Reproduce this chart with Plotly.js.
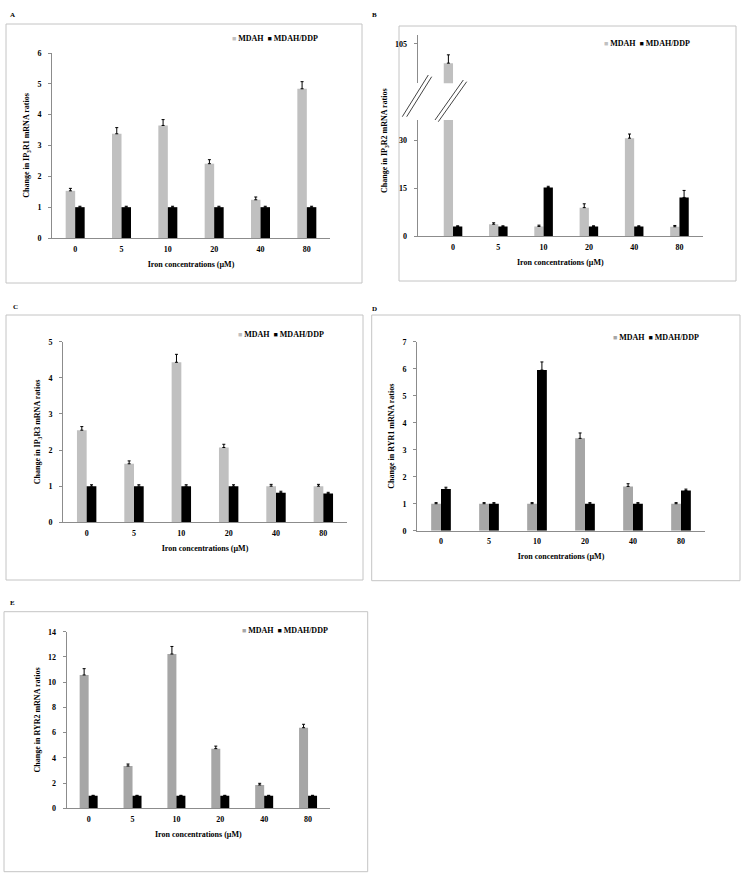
<!DOCTYPE html>
<html>
<head>
<meta charset="utf-8">
<script src="https://cdn.plot.ly/plotly-3.0.1.min.js"></script>
<style>
  body { margin: 0; background: #fff; }
  #chart { width: 744px; height: 876px; }
</style>
</head>
<body>
<div id="chart"></div>
<script>
var W = 744, H = 876;

// data
var categories = ['0', '5', '10', '20', '40', '80'];
var seriesNames = ['MDAH', 'MDAH/DDP'];

var mdahA = [1.53, 3.38, 3.65, 2.41, 1.24, 4.84];
var mdahErrA = [0.08, 0.20, 0.19, 0.13, 0.09, 0.23];
var ddpA = [1.0, 1.0, 1.0, 1.0, 1.0, 1.0];
var ddpErrA = [0.03, 0.03, 0.03, 0.03, 0.03, 0.03];

var mdahB = [99.0, 3.7, 3.0, 8.9, 30.7, 2.9];
var mdahErrB = [2.6, 0.45, 0.4, 1.2, 1.3, 0.4];
var ddpB = [3.0, 3.0, 15.2, 3.0, 3.0, 12.1];
var ddpErrB = [0.2, 0.2, 0.4, 0.2, 0.2, 2.2];

var mdahC = [2.55, 1.62, 4.43, 2.07, 1.0, 1.0];
var mdahErrC = [0.10, 0.08, 0.22, 0.09, 0.05, 0.05];
var ddpC = [1.0, 1.0, 1.0, 1.0, 0.82, 0.80];
var ddpErrC = [0.04, 0.04, 0.04, 0.04, 0.04, 0.03];

var mdahD = [1.0, 1.0, 1.0, 3.42, 1.64, 1.0];
var mdahErrD = [0.04, 0.04, 0.04, 0.20, 0.10, 0.04];
var ddpD = [1.54, 1.0, 5.95, 1.0, 1.0, 1.49];
var ddpErrD = [0.07, 0.04, 0.30, 0.04, 0.04, 0.05];

var mdahE = [10.57, 3.35, 12.23, 4.73, 1.85, 6.39];
var mdahErrE = [0.50, 0.16, 0.60, 0.20, 0.13, 0.27];
var ddpE = [1.0, 1.0, 1.0, 1.0, 1.0, 1.0];
var ddpErrE = [0.03, 0.03, 0.03, 0.03, 0.03, 0.03];

var FONT = '"Liberation Serif", "Times New Roman", serif';
var AXIS_GREY = '#8c8c8c';
var BOX_GREY = '#c4c4c4';
var LIGHT = '#c0c0c0';
var MID = '#a6a6a6';

// pixel -> paper
function px(x) { return x / W; }
function py(y) { return 1 - y / H; }

function txtFont(size) {
    return {family: FONT, size: size, color: '#000', weight: 'bold'};
}

var data = [];
var layout = {
    width: W,
    height: H,
    margin: {l: 0, r: 0, t: 0, b: 0},
    showlegend: false,
    barmode: 'group',
    bargap: 0.59,
    bargroupgap: 0,
    paper_bgcolor: '#fff',
    plot_bgcolor: 'rgba(0,0,0,0)',
    font: txtFont(8),
    shapes: [],
    annotations: []
};

function barTrace(name, y, err, color, n, yn) {
    return {
        type: 'bar',
        name: name,
        x: categories,
        y: y,
        xaxis: 'x' + n,
        yaxis: 'y' + (yn || n),
        marker: {color: color, line: {width: 0}},
        error_y: {
            type: 'data',
            symmetric: false,
            array: err,
            arrayminus: err.map(function () { return 0; }),
            color: '#000',
            thickness: 1,
            width: 1.5
        },
        hoverinfo: 'x+y'
    };
}

function xAxisDef(x0, x1, anchor, range) {
    return {
        domain: [px(x0), px(x1)],
        anchor: anchor,
        type: 'category',
        range: range || [-0.5, 5.5],
        showline: true,
        linecolor: AXIS_GREY,
        linewidth: 1,
        ticks: '',
        showgrid: false,
        zeroline: false,
        ticklabelstandoff: 3,
        tickfont: txtFont(8),
        title: {
            text: 'Iron concentrations (\u00b5M)',
            font: txtFont(8),
            standoff: 8
        },
        fixedrange: true
    };
}

function yAxisDef(y0, y1, anchor, range, tickvals, title) {
    var ax = {
        domain: [py(y1), py(y0)],
        anchor: anchor,
        range: range,
        tickvals: tickvals,
        showline: true,
        linecolor: AXIS_GREY,
        linewidth: 1,
        ticks: 'outside',
        ticklen: 3,
        tickcolor: AXIS_GREY,
        showgrid: false,
        zeroline: false,
        ticklabelstandoff: 5,
        tickfont: txtFont(8),
        fixedrange: true
    };
    if (title) {
        ax.title = {text: title, font: txtFont(8), standoff: 6};
    }
    return ax;
}

function seq(a, b, step) {
    var out = [];
    for (var v = a; v <= b + 1e-9; v += step) out.push(v);
    return out;
}

function frame(box, label, legendPos, grey) {
    layout.shapes.push({
        type: 'rect', xref: 'paper', yref: 'paper',
        x0: px(box[0]), x1: px(box[2]), y0: py(box[3]), y1: py(box[1]),
        line: {color: BOX_GREY, width: 1}, fillcolor: 'rgba(0,0,0,0)', layer: 'below'
    });
    layout.annotations.push({
        xref: 'paper', yref: 'paper', x: px(label[1]), y: py(label[2]),
        text: label[0], showarrow: false, xanchor: 'center', yanchor: 'middle',
        font: txtFont(7)
    });
    layout.annotations.push({
        xref: 'paper', yref: 'paper', x: px(legendPos[0]), y: py(legendPos[1]),
        text: '<span style="color:' + grey + ';font-size:7px">\u25a0</span> ' + seriesNames[0] +
              '  <span style="color:#000;font-size:7px">\u25a0</span> ' + seriesNames[1],
        showarrow: false, xanchor: 'center', yanchor: 'middle',
        font: txtFont(8)
    });
}

// panel A
data.push(barTrace(seriesNames[0], mdahA, mdahErrA, LIGHT, 1));
data.push(barTrace(seriesNames[1], ddpA, ddpErrA, '#000', 1));
layout.xaxis = xAxisDef(52, 330, 'y');
layout.yaxis = yAxisDef(53, 238, 'x', [0, 6], seq(0, 6, 1), 'Change in IP<sub>3</sub>R1 mRNA ratios');
frame([6, 24, 362, 283], ['A', 12, 15], [275, 39], LIGHT);

// panel B (broken axis: lower part 0-36, upper part 93-108)
data.push(barTrace(seriesNames[0], mdahB, mdahErrB, LIGHT, 2));
data.push(barTrace(seriesNames[1], ddpB, ddpErrB, '#000', 2));
data.push(barTrace(seriesNames[0], mdahB, mdahErrB, LIGHT, 2, 6));
data.push(barTrace(seriesNames[1], ddpB, ddpErrB, '#000', 2, 6));
layout.xaxis2 = xAxisDef(417.7, 703, 'y2', [-0.78, 5.52]);
layout.yaxis2 = yAxisDef(120, 236, 'x2', [0, 36.4], [0, 15, 30], null);
layout.yaxis6 = yAxisDef(35, 83.3, 'x2', [92.7, 107.8], [105], null);
frame([399, 26, 736, 281], ['B', 374, 15], [647, 43.3], LIGHT);
layout.annotations.push({
    xref: 'paper', yref: 'paper', x: px(385), y: py(141),
    text: 'Change in IP<sub>3</sub>R2 mRNA ratios', textangle: -90, showarrow: false,
    xanchor: 'center', yanchor: 'middle', font: txtFont(8)
});
// break marks
[[402.3, 116.7, 428.3, 75], [406.7, 116.7, 431.7, 76.7],
 [435, 120, 463.3, 80], [438.3, 121.7, 466.7, 81.7]].forEach(function (s) {
    layout.shapes.push({
        type: 'line', xref: 'paper', yref: 'paper',
        x0: px(s[0]), y0: py(s[1]), x1: px(s[2]), y1: py(s[3]),
        line: {color: '#444', width: 1}
    });
});

// panel C
data.push(barTrace(seriesNames[0], mdahC, mdahErrC, LIGHT, 3));
data.push(barTrace(seriesNames[1], ddpC, ddpErrC, '#000', 3));
layout.xaxis3 = xAxisDef(63, 347, 'y3');
layout.yaxis3 = yAxisDef(341.7, 522.3, 'x3', [0, 5], seq(0, 5, 1), 'Change in IP<sub>3</sub>R3 mRNA ratios');
frame([6, 315, 363, 580], ['C', 15, 306.7], [280.5, 334.3], LIGHT);

// panel D
data.push(barTrace(seriesNames[0], mdahD, mdahErrD, MID, 4));
data.push(barTrace(seriesNames[1], ddpD, ddpErrD, '#000', 4));
layout.xaxis4 = xAxisDef(417, 705, 'y4');
layout.yaxis4 = yAxisDef(341.7, 530.7, 'x4', [0, 7], seq(0, 7, 1), 'Change in RYR1 mRNA ratios');
frame([371.7, 315, 740, 580.7], ['D', 374.3, 309], [655.5, 337.3], MID);

// panel E
data.push(barTrace(seriesNames[0], mdahE, mdahErrE, MID, 5));
data.push(barTrace(seriesNames[1], ddpE, ddpErrE, '#000', 5));
layout.xaxis5 = xAxisDef(66.7, 330, 'y5');
layout.yaxis5 = yAxisDef(631.7, 808.3, 'x5', [0, 14], seq(0, 14, 2), 'Change in RYR2 mRNA ratios');
frame([4, 611.7, 367.7, 871.7], ['E', 13, 603.3], [284.8, 630.7], MID);

Plotly.newPlot('chart', data, layout, {displayModeBar: false, staticPlot: true});
</script>
</body>
</html>
